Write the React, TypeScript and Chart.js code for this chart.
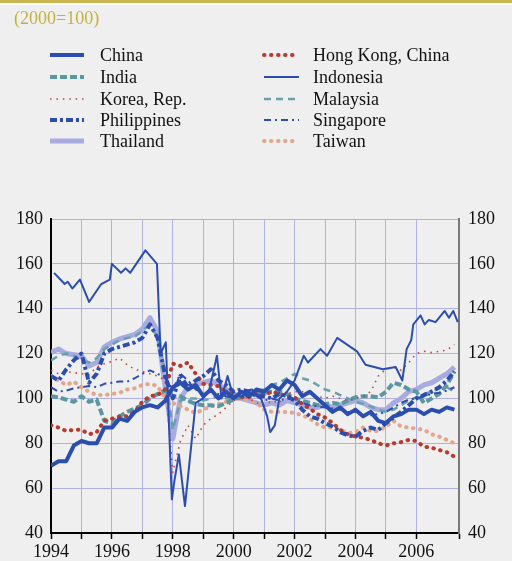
import { useEffect, useRef } from 'react';
import { Chart, registerables } from 'chart.js';
Chart.register(...registerables);

const FONT = "'Liberation Serif', 'Times New Roman', serif";

// quarterly time axis 1994Q1 .. 2007Q2
const quarters: number[] = Array.from({ length: 54 }, (_, i) => 1994 + i / 4);

const china = [70,72,72,79,81,80,80,87,87,91,90,94,96,97,96,99,105,107,104,106,101,104,100,103,100,103,101,104,103,106,104,108,106,101,103,100,97,94,96,93,95,92,94,90,89,92,93,95,95,93,95,94,96,95];
const india = [101,100.5,99.5,98.5,101,98.5,99.5,90,89,92,94,95.5,97,100,102,103.5,101,101,99,97.5,97,97,96.5,98,99.5,100.5,101.5,102,102.5,103,103,102,100,99,98,97,97.5,98,97.5,99,100.5,101,101,100.5,103,107,106,104,103,98,100,102,106,112];
const korea = [112.5,111,112,111.5,111,110.5,114,115.5,116.5,118,115,113,112,111,110,108,67,81,88,82,88,91,93,96,99,101,100,98,97,99,98,102,103,103,102,101,100,101,100,99,100,101,103,110,113,114,112.5,116,120,121,120.5,121,121.5,124];
const philippines = [110,108,113,117,120,107,111,120,122,123,124,125,127,133,127,110,100,110,105,108,110,113,108,106,103,104,103,101,101,100,102,101,99,95,92,91,89,87.5,85,83.5,83,85.5,87,86,89,91.5,94,97,100,101.5,103,105,108,112];
const thailand = [120.5,122,120,119.5,119,114.5,116,123,125,126.5,127.5,128.5,131,136,130,105,82,100,105,106,107,108,106,104,102,100,99,98,97,98,97,99,98,97,96,96,97,96,97,98,99,98,96,95,95,98,100,103,104,106,107,109,111,114];
const hongKong = [88,87,85.5,86,86,84,85,90,91,92,92,94,98.5,101,101.5,104,115.5,114.5,116,111,106.5,106,105.5,103,101,100.5,100.5,102,101.5,103,102,101,100.5,97.5,95.5,93,91.5,89,86,84,83,82.5,81.5,80,79,80,80.5,81.5,81,78.5,78,77,76,74];
const malaysia = [117,119,120,119,117,116,118,122,124,126,127,127.5,130,133,127,112,86,99,100,100,99,100,101,100,100,101,102,103.5,104,106,107,109,111,109,108,106,104,103,101.5,100,98.5,97.5,96.5,95,94,95,97,99,100.5,102,103,104.5,105,103];
const singapore = [105,103,103.5,104.5,105,105.5,105,106.5,107,107.5,107.5,109,111,112.5,111,109,104,111,108,104,102,103,102,101,100,101,102,101,99,100,99,100,99.5,98,97,96.5,96,95.5,95,94,94,93,92.5,93,94,96,98,99.5,100,101,102,102.5,103.5,105];
const taiwan = [110,108,106,107.5,105,103,101.5,101.5,102,102.5,104,104.5,106,106.5,105.5,100,98,96.5,95,93.5,95,96.5,97.5,98.5,99.5,100,99,98,95,94,94,94,93.5,92.5,91,88.5,87,87,86,84.5,85,87,85.5,85.5,87.5,90,87.5,87,86.5,86,84,83,81.5,80];

// Indonesia has its own (irregular) time points
const indonesiaT = [1994.1,1994.45,1994.55,1994.7,1994.95,1995.25,1995.65,1995.93,1996.0,1996.3,1996.45,1996.6,1996.9,1997.1,1997.48,1997.6,1997.77,1997.97,1998.05,1998.2,1998.4,1998.75,1999.0,1999.2,1999.45,1999.6,1999.8,2000.0,2000.3,2000.6,2000.9,2001.1,2001.2,2001.35,2001.5,2001.75,2002.0,2002.3,2002.44,2002.85,2003.07,2003.4,2004.05,2004.33,2004.9,2005.32,2005.54,2005.68,2005.83,2005.9,2006.14,2006.27,2006.41,2006.63,2006.93,2007.07,2007.21,2007.36];
const indonesia = [156,151,152,149,153,143,151,153,160,156,158,156,162,166,160,120,125,55,63,75,52,98,100,104,119,100,110,100,103,104,100,92,85,88,100,103,108,119,116,122,119,127,121,115,113,114,108,122,126,133,137,133,135,134,139,136,139,134];

const yTicks = [40, 60, 80, 100, 120, 140, 160, 180];
const xLabelYears = [1994, 1996, 1998, 2000, 2002, 2004, 2006];

const BLUE = '#2b4db0';

type S = { label: string; color: string; width: number; dash: number[]; cap: CanvasLineCap };
const sChina: S = { label: 'China', color: BLUE, width: 4, dash: [], cap: 'butt' };
const sIndia: S = { label: 'India', color: '#5b96a3', width: 4, dash: [7, 3], cap: 'butt' };
const sKorea: S = { label: 'Korea, Rep.', color: '#c9483a', width: 1.6, dash: [1.6, 4.8], cap: 'butt' };
const sPhil: S = { label: 'Philippines', color: BLUE, width: 4, dash: [7, 3, 3, 3], cap: 'butt' };
const sThai: S = { label: 'Thailand', color: '#a7abe0', width: 5, dash: [], cap: 'butt' };
const sHK: S = { label: 'Hong Kong, China', color: '#b83a2e', width: 4, dash: [0.5, 6.5], cap: 'round' };
const sIdn: S = { label: 'Indonesia', color: BLUE, width: 2, dash: [], cap: 'butt' };
const sMys: S = { label: 'Malaysia', color: '#67a1ad', width: 2.5, dash: [7, 5], cap: 'butt' };
const sSgp: S = { label: 'Singapore', color: BLUE, width: 2, dash: [7, 4, 2, 4], cap: 'butt' };
const sTwn: S = { label: 'Taiwan', color: '#e3a68a', width: 4, dash: [0.5, 6.5], cap: 'round' };

const legendCol1 = [sChina, sIndia, sKorea, sPhil, sThai];
const legendCol2 = [sHK, sIdn, sMys, sSgp, sTwn];

function ds(s: S, xs: number[], ys: number[], order: number) {
  return {
    label: s.label,
    data: xs.map((x, i) => ({ x, y: ys[i] })),
    borderColor: s.color,
    borderWidth: s.width,
    borderDash: s.dash,
    borderCapStyle: s.cap,
    borderJoinStyle: 'round' as CanvasLineJoin,
    pointRadius: 0,
    tension: 0,
    fill: false,
    order,
    xAxisID: 'x',
    yAxisID: 'y',
  };
}

const decor = {
  id: 'decor',
  beforeDraw(chart: any) {
    const ctx = chart.ctx;
    ctx.save();
    ctx.fillStyle = '#efefef';
    ctx.fillRect(0, 0, chart.width, chart.height);
    ctx.fillStyle = '#c8b650';
    ctx.fillRect(0, 0, chart.width, 3);
    ctx.fillStyle = '#ffffff';
    ctx.fillRect(0, 3, chart.width, 2);
    ctx.restore();
  },
  afterDraw(chart: any) {
    const ctx = chart.ctx;
    ctx.save();
    ctx.font = `18px ${FONT}`;
    ctx.textBaseline = 'middle';
    ctx.fillStyle = '#c4b23e';
    ctx.fillText('(2000=100)', 14, 19);
    const rows = [55, 77, 99, 120, 141];
    const cols: [S[], number, number, number][] = [
      [legendCol1, 50, 84, 100],
      [legendCol2, 264, 299, 313],
    ];
    cols.forEach(([items, x0, x1, tx]) => {
      items.forEach((s, i) => {
        const y = rows[i];
        ctx.beginPath();
        ctx.strokeStyle = s.color;
        ctx.lineWidth = s.width;
        ctx.setLineDash(s.dash);
        ctx.lineCap = s.cap;
        ctx.moveTo(x0, y);
        ctx.lineTo(x1, y);
        ctx.stroke();
        ctx.setLineDash([]);
        ctx.fillStyle = '#111111';
        ctx.fillText(s.label, tx, y + 1);
      });
    });
    ctx.restore();
  },
};

export default function App() {
  const ref = useRef<HTMLCanvasElement>(null);
  useEffect(() => {
    document.body.style.margin = '0';
    const chart = new Chart(ref.current!, {
      type: 'line',
      data: {
        datasets: [
          ds(sChina, quarters, china, 0),
          ds(sIdn, indonesiaT, indonesia, 1),
          ds(sPhil, quarters, philippines, 2),
          ds(sSgp, quarters, singapore, 3),
          ds(sKorea, quarters, korea, 4),
          ds(sHK, quarters, hongKong, 5),
          ds(sIndia, quarters, india, 6),
          ds(sMys, quarters, malaysia, 7),
          ds(sTwn, quarters, taiwan, 8),
          ds(sThai, quarters, thailand, 9),
        ] as any,
      },
      plugins: [decor],
      options: {
        responsive: false,
        animation: false,
        devicePixelRatio: 1,
        layout: { padding: { top: 219, left: 0, right: 0, bottom: 0 } },
        plugins: { legend: { display: false }, tooltip: { enabled: false } },
        scales: {
          x: {
            type: 'linear',
            min: 1994,
            max: 2007.4,
            afterFit: (s: any) => { s.height = 28; },
            border: { color: '#000', width: 2 },
            grid: { color: '#adb1e6', lineWidth: 1, tickColor: '#000', tickLength: 6, tickWidth: 1.5 },
            ticks: {
              stepSize: 1,
              autoSkip: false,
              maxRotation: 0,
              padding: 2,
              color: '#111',
              font: { family: FONT, size: 18 },
              callback: (v: any) => (xLabelYears.includes(Number(v)) ? String(v) : ''),
            },
          },
          y: {
            type: 'linear',
            position: 'left',
            min: 40,
            max: 180,
            afterFit: (s: any) => { s.width = 51; },
            afterBuildTicks: (s: any) => { s.ticks = yTicks.map((v) => ({ value: v })); },
            border: { color: '#000', width: 2 },
            grid: { color: '#adb1e6', lineWidth: 1, drawTicks: false },
            ticks: { padding: 8, color: '#111', font: { family: FONT, size: 18 } },
          },
          y2: {
            type: 'linear',
            position: 'right',
            min: 40,
            max: 180,
            afterFit: (s: any) => { s.width = 53; },
            afterBuildTicks: (s: any) => { s.ticks = yTicks.map((v) => ({ value: v })); },
            border: { color: '#7a7a7a', width: 2 },
            grid: { display: false, drawTicks: false },
            ticks: { padding: 9, color: '#111', font: { family: FONT, size: 18 } },
          },
        },
      } as any,
    });
    return () => chart.destroy();
  }, []);
  return (
    <div style={{ width: 512, height: 561 }}>
      <canvas ref={ref} width={512} height={561} style={{ display: 'block' }} />
    </div>
  );
}
